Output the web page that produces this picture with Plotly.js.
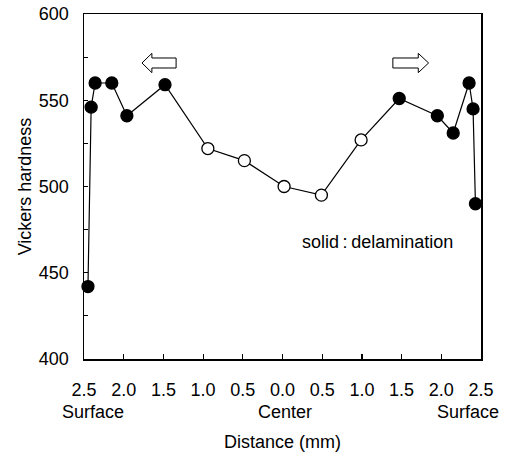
<!DOCTYPE html>
<html>
<head>
<meta charset="utf-8">
<script src="https://cdn.plot.ly/plotly-3.0.1.min.js"></script>
<style>html,body{margin:0;padding:0;background:#fff;}#chart{width:508px;height:452px;}</style>
</head>
<body>
<div id="chart"></div>
<script>
// Distance from center (mm): negative = left half, positive = right half
const distance = [-2.45, -2.41, -2.36, -2.15, -1.96, -1.48, -0.94, -0.48, 0.02, 0.49, 0.99, 1.47, 1.95, 2.15, 2.35, 2.40, 2.43];
const hardness = [442, 546, 560, 560, 541, 559, 522, 515, 500, 495, 527, 551, 541, 531, 560, 545, 490];
const delamination = [true, true, true, true, true, true, false, false, false, false, false, true, true, true, true, true, true];
const xTickVals = [-2.5, -2.0, -1.5, -1.0, -0.5, 0.0, 0.5, 1.0, 1.5, 2.0, 2.5];
const xTickText = ["2.5", "2.0", "1.5", "1.0", "0.5", "0.0", "0.5", "1.0", "1.5", "2.0", "2.5"];
const regionLabels = ["Surface", "Center", "Surface"];
const regionPos = [-2.5, 0.0, 2.5];

const font = "Liberation Sans, Arial, Helvetica, sans-serif";
const fs = 18;
const fillColors = delamination.map(d => d ? "#000000" : "#ffffff");

const trace = {
  x: distance, y: hardness, type: "scatter", mode: "lines+markers",
  line: {color: "#000", width: 1.2},
  marker: {size: 12, color: fillColors, line: {color: "#000", width: 1.3}},
  showlegend: false, cliponaxis: false
};

function arrowPath(tip, headBase, tail, yc, headHalf, bodyHalf) {
  return "M " + tip + "," + yc +
    " L " + headBase + "," + (yc + headHalf) +
    " L " + headBase + "," + (yc + bodyHalf) +
    " L " + tail + "," + (yc + bodyHalf) +
    " L " + tail + "," + (yc - bodyHalf) +
    " L " + headBase + "," + (yc - bodyHalf) +
    " L " + headBase + "," + (yc - headHalf) + " Z";
}

const shapes = [
  {type: "path", xref: "x", yref: "y", path: arrowPath(-1.77, -1.645, -1.34, 571.6, 5.6, 2.9), line: {color: "#000", width: 1}, fillcolor: "#fff"},
  {type: "path", xref: "x", yref: "y", path: arrowPath(1.84, 1.71, 1.39, 571.6, 5.6, 2.9), line: {color: "#000", width: 1}, fillcolor: "#fff"}
];

const annotations = regionLabels.map((t, i) => ({
  text: t, x: regionPos[i], xref: "x", y: 0, yref: "paper", yanchor: "top",
  xshift: i === 0 ? 9 : (i === 2 ? -13 : 2), yshift: -41, showarrow: false,
  font: {family: font, size: fs, color: "#000"}
}));
annotations.push({
  text: "solid\u2009:\u2009delamination", x: 1.2, y: 468, xref: "x", yref: "y",
  showarrow: false, font: {family: font, size: fs, color: "#000"}
});

const layout = {
  width: 508, height: 452,
  margin: {l: 84, r: 27, t: 14, b: 93},
  paper_bgcolor: "#fff", plot_bgcolor: "#fff",
  font: {family: font, size: fs, color: "#000"},
  xaxis: {
    range: [-2.5, 2.5], tickvals: xTickVals, ticktext: xTickText,
    ticks: "inside", ticklen: 5, tickwidth: 1.2, tickcolor: "#000",
    showline: true, linecolor: "#000", linewidth: 1.5, mirror: true,
    showgrid: false, zeroline: false, ticklabelstandoff: 14,
    tickfont: {family: font, size: fs, color: "#000"},
    title: {text: "Distance (mm)", font: {family: font, size: fs, color: "#000"}, standoff: 44}
  },
  yaxis: {
    range: [400, 600], dtick: 50, tick0: 400,
    ticks: "inside", ticklen: 4, tickwidth: 1.2, tickcolor: "#000",
    minor: {dtick: 25, ticks: "inside", ticklen: 4, tickcolor: "#000", tickwidth: 1.2, showgrid: false},
    showline: true, linecolor: "#000", linewidth: 1.5, mirror: true,
    showgrid: false, zeroline: false, ticklabelstandoff: 10,
    tickfont: {family: font, size: fs, color: "#000"},
    title: {text: "Vickers hardness", font: {family: font, size: fs, color: "#000"}, standoff: 2}
  },
  shapes: shapes, annotations: annotations
};

Plotly.newPlot("chart", [trace], layout, {displayModeBar: false, staticPlot: true});
</script>
</body>
</html>
